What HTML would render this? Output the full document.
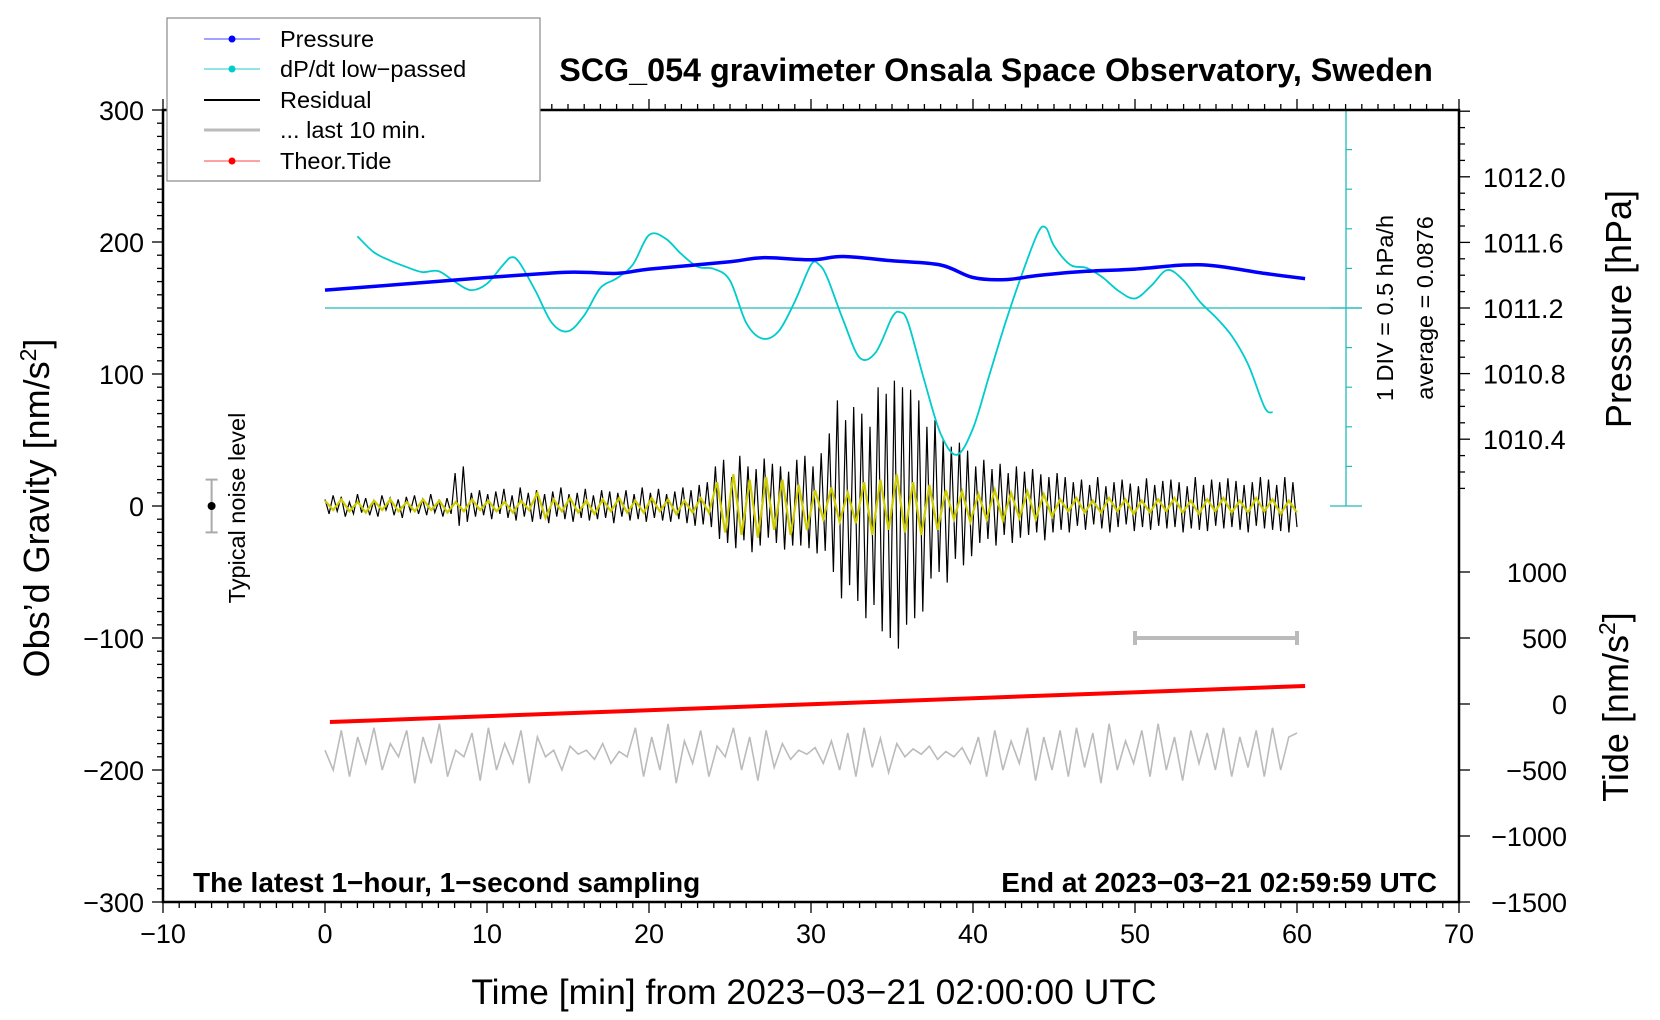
<!DOCTYPE html>
<html><head><meta charset="utf-8"><style>
html,body{margin:0;padding:0;background:#fff;}
svg{display:block;font-family:"Liberation Sans",sans-serif;}
</style></head><body>
<svg id="chart" width="1660" height="1020" viewBox="0 0 1660 1020" xmlns="http://www.w3.org/2000/svg">
<rect x="0" y="0" width="1660" height="1020" fill="#fff"/>
<g id="marks"></g>
<g id="axes"></g>
<text x="996" y="81" font-size="32.3" font-weight="bold" text-anchor="middle">SCG_054 gravimeter Onsala Space Observatory, Sweden</text>
<text x="814" y="1004" font-size="35.5" text-anchor="middle">Time [min] from 2023−03−21 02:00:00 UTC</text>
<text transform="translate(49,508) rotate(-90)" font-size="36" text-anchor="middle">Obs’d Gravity [nm/s<tspan font-size="23" dy="-13">2</tspan><tspan dy="13">]</tspan></text>
<text transform="translate(1631,309) rotate(-90)" font-size="36" text-anchor="middle">Pressure [hPa]</text>
<text transform="translate(1628,707) rotate(-90)" font-size="36" text-anchor="middle">Tide [nm/s<tspan font-size="23" dy="-13">2</tspan><tspan dy="13">]</tspan></text>
<text x="193" y="892" font-size="28" font-weight="bold">The latest 1−hour, 1−second sampling</text>
<text x="1437" y="892" font-size="28" font-weight="bold" text-anchor="end">End at 2023−03−21 02:59:59 UTC</text>
<text transform="translate(245,508) rotate(-90)" font-size="23.5" text-anchor="middle">Typical noise level</text>
<text transform="translate(1393,308) rotate(-90)" font-size="23.5" text-anchor="middle">1 DIV = 0.5 hPa/h</text>
<text transform="translate(1433,308) rotate(-90)" font-size="23.5" text-anchor="middle">average = 0.0876</text>
<g>
<rect x="167" y="18" width="373" height="163" fill="#fff" stroke="#888" stroke-width="1.2"/>
<g><line x1="204" y1="39" x2="260" y2="39" stroke="#44f" stroke-width="1"/><circle cx="232" cy="39" r="3.5" fill="#00f"/><text x="280" y="47" font-size="23.5">Pressure</text></g>
<g><line x1="204" y1="69" x2="260" y2="69" stroke="#2cc" stroke-width="1"/><circle cx="232" cy="69" r="3.5" fill="#0cc"/><text x="280" y="77" font-size="23.5">dP/dt low−passed</text></g>
<g><line x1="204" y1="100" x2="260" y2="100" stroke="#000" stroke-width="2"/><text x="280" y="108" font-size="23.5">Residual</text></g>
<g><line x1="204" y1="130" x2="260" y2="130" stroke="#bbb" stroke-width="3"/><text x="280" y="138" font-size="23.5">... last 10 min.</text></g>
<g><line x1="204" y1="161" x2="260" y2="161" stroke="#f44" stroke-width="1"/><circle cx="232" cy="161" r="3.5" fill="#f00"/><text x="280" y="169" font-size="23.5">Theor.Tide</text></g>
</g>
</svg>
<script>
const xTicks=[-10,0,10,20,30,40,50,60,70];
const yTicks=[-300,-200,-100,0,100,200,300];
const pTicks=[1010.4,1010.8,1011.2,1011.6,1012.0];
const tideTicks=[-1500,-1000,-500,0,500,1000];
const pressT=[0,5,10,15,18,20,25,27,30,32,35,38,40,42,44,47,50,53,55,58,60.5];
const pressV=[1011.309,1011.347,1011.386,1011.418,1011.411,1011.437,1011.482,1011.507,1011.494,1011.514,1011.488,1011.462,1011.386,1011.373,1011.398,1011.424,1011.437,1011.462,1011.456,1011.411,1011.379];
const dpT=[2,3,4,5,6,7,8,9,10,11,11.5,12,13,14,15,16,17,18,19,20,21,22,23,24,25,26,27,28,29,30,30.5,31,32,33,34,35,35.5,36,37,38,39,40,41,42,43,44,44.5,45,46,47,48,49,50,51,52,53,54,55,56,57,58,58.5];
const dpV=[0.994,0.794,0.688,0.608,0.541,0.554,0.421,0.314,0.394,0.634,0.728,0.661,0.301,-0.099,-0.206,-0.006,0.341,0.461,0.634,1.008,0.968,0.768,0.608,0.581,0.434,-0.099,-0.299,-0.206,0.168,0.634,0.634,0.474,-0.072,-0.539,-0.472,-0.032,0.034,-0.099,-0.832,-1.499,-1.766,-1.432,-0.766,-0.099,0.501,1.034,1.101,0.874,0.634,0.594,0.474,0.301,0.208,0.368,0.568,0.434,0.168,-0.032,-0.272,-0.632,-1.166,-1.232];
const dpAverage=0.0876;
const residualV=[5,-6,8,-4,7,-8,3,-6,9,-5,6,-7,4,-8,8,-3,6,-7,5,-9,7,-4,8,-6,5,-7,9,-5,4,-8,6,-6,
25,-15,30,-12,
10,-8,12,-7,9,-10,11,-6,13,-9,8,-11,14,-8,10,-12,
12,-10,9,-13,11,-8,14,-10,9,-12,10,-9,13,-11,8,-10,12,-9,11,-13,10,-8,12,-11,9,-10,14,-12,10,-9,13,-11,9,-12,11,-10,14,-13,12,-15,16,-14,18,-16,
30,-25,35,-28,22,-32,38,-26,30,-35,28,-30,36,-24,32,-28,30,-33,26,-30,
35,-30,38,-32,30,-36,40,-34,
55,-50,80,-70,65,-60,75,-72,
70,-85,60,-75,
90,-95,85,-100,95,-108,90,-90,88,-85,80,-80,
60,-55,65,-50,50,-58,45,-40,48,-45,42,-38,
30,-28,35,-25,28,-30,32,-22,25,-28,30,-24,26,-22,28,-20,24,-26,22,-20,25,-18,22,-20,
18,-15,20,-18,16,-14,22,-17,15,-20,18,-16,20,-14,17,-19,15,-16,21,-18,16,-15,19,-17,20,-16,18,-20,15,-17,22,-18,16,-19,20,-15,18,-17,21,-16,19,-18,16,-20,18,-15,22,-17,20,-18,16,-19,22,-20,18,-16];
const yellowV=[4,-3,5,-4,3,-5,4,-3,5,-4,3,-4,5,-3,4,-5,3,-4,5,-3,4,-4,3,-5,4,-3,
10,-9,
5,-4,6,-5,4,-6,5,-4,6,-5,4,-5,6,-4,5,-6,4,-5,6,-5,
18,-20,24,-22,20,-24,22,-18,20,-22,16,-18,
12,-10,14,-12,10,-13,
18,-22,20,-18,24,-20,18,-22,16,-18,
12,-10,11,-12,9,-10,12,-11,10,-9,11,-10,9,-8,
5,-4,6,-5,4,-5,6,-4,5,-6,4,-5,5,-4,6,-5,4,-6,5,-4,6,-5,4,-5,6,-4,5,-6,4,-5];
const last10V=[-185,-200,-170,-205,-175,-195,-168,-200,-180,-190,-170,-210,-175,-195,-165,-205,-185,-190,-172,-208,-168,-200,-180,-195,-170,-210,-175,-190,-185,-200,-182,-188,-185,-192,-180,-195,-186,-190,-168,-205,-175,-200,-165,-210,-178,-195,-170,-205,-182,-190,-168,-200,-175,-208,-170,-198,-180,-192,-185,-188,-183,-195,-178,-200,-172,-205,-168,-198,-176,-202,-180,-190,-184,-188,-182,-192,-186,-190,-183,-195,-175,-205,-170,-200,-178,-195,-168,-208,-175,-200,-170,-205,-168,-198,-172,-210,-165,-200,-178,-195,-170,-205,-165,-200,-175,-208,-170,-195,-172,-200,-168,-205,-175,-198,-170,-205,-168,-200,-175,-172];
const tideT=[0.3,60.5];
const tideV=[-136,136];
const noiseLevel=[-7,0,20];
const barRange=[50,60,-100];

const X0=163,X1=1459,Y0=110,Y1=902;
const xs=v=>X0+(v+10)/80*(X1-X0);
const ys=v=>Y1-(v+300)/600*(Y1-Y0);
const ps=v=>308-(v-1011.2)/0.4*65.6;
const ts=v=>704-v/500*66;
const ds=v=>308-(v-dpAverage)/0.5*39.6;
const NS='http://www.w3.org/2000/svg';
const marks=document.getElementById('marks'),axes=document.getElementById('axes');
function mk(tag,attrs,parent){const e=document.createElementNS(NS,tag);for(const k in attrs)e.setAttribute(k,attrs[k]);parent.appendChild(e);return e;}
function poly(pts){return pts.map((p,i)=>(i?'L':'M')+p[0].toFixed(1)+','+p[1].toFixed(1)).join('');}
function smooth(pts){let d='M'+pts[0][0]+','+pts[0][1];for(let i=0;i<pts.length-1;i++){const p0=pts[i-1]||pts[i],p1=pts[i],p2=pts[i+1],p3=pts[i+2]||p2;d+='C'+(p1[0]+(p2[0]-p0[0])/6).toFixed(1)+','+(p1[1]+(p2[1]-p0[1])/6).toFixed(1)+' '+(p2[0]-(p3[0]-p1[0])/6).toFixed(1)+','+(p2[1]-(p3[1]-p1[1])/6).toFixed(1)+' '+p2[0].toFixed(1)+','+p2[1].toFixed(1);}return d;}

let e=mk('line',{x1:1346,y1:ds(dpAverage+2.5),x2:1346,y2:ds(dpAverage-2.5),stroke:'#2bb',"stroke-width":1.3},marks);


for(let k=-5;k<=5;k++){const y=ds(dpAverage+k*0.5);const big=(k===5||k===-5||k===0);mk('line',{x1:big?1330:1346,y1:y,x2:big?1362:1352,y2:y,stroke:'#2bb',"stroke-width":1.2},marks);}
e=mk('line',{x1:xs(0),y1:ds(dpAverage),x2:1362,y2:ds(dpAverage),stroke:'#2bb',"stroke-width":1.3},marks);



e=mk('path',{d:poly(last10V.map((v,i)=>[xs(i*60/(last10V.length-1)),ys(v)])),fill:'none',stroke:'#bbb',"stroke-width":1.6},marks);


e=mk('path',{d:poly(tideT.map((t,i)=>[xs(t),ts(tideV[i])])),fill:'none',stroke:'#f00',"stroke-width":4},marks);


e=mk('path',{d:poly(residualV.map((v,i)=>[xs(i*60/(residualV.length-1)),ys(v)])),fill:'none',stroke:'#000',"stroke-width":1.2},marks);


e=mk('path',{d:poly(yellowV.map((v,i)=>[xs(i*60/(yellowV.length-1)),ys(v)])),fill:'none',stroke:'#cc0',"stroke-width":2.2},marks);


e=mk('path',{d:smooth(dpT.map((t,i)=>[xs(t),ds(dpV[i])])),fill:'none',stroke:'#0cc',"stroke-width":1.8},marks);


e=mk('path',{d:smooth(pressT.map((t,i)=>[xs(t),ps(pressV[i])])),fill:'none',stroke:'#00f',"stroke-width":3.5},marks);


e=mk('line',{x1:xs(noiseLevel[0]),y1:ys(noiseLevel[1]-noiseLevel[2]),x2:xs(noiseLevel[0]),y2:ys(noiseLevel[1]+noiseLevel[2]),stroke:'#aaa',"stroke-width":2},marks);


for(const s of [-1,1])mk('line',{x1:xs(noiseLevel[0])-6,y1:ys(noiseLevel[1]+s*noiseLevel[2]),x2:xs(noiseLevel[0])+6,y2:ys(noiseLevel[1]+s*noiseLevel[2]),stroke:'#aaa',"stroke-width":2},marks);
mk('circle',{cx:xs(noiseLevel[0]),cy:ys(noiseLevel[1]),r:4,fill:'#000'},marks);
e=mk('line',{x1:xs(barRange[0]),y1:ys(barRange[2]),x2:xs(barRange[1]),y2:ys(barRange[2]),stroke:'#bbb',"stroke-width":4},marks);


for(const t of [barRange[0],barRange[1]])mk('line',{x1:xs(t),y1:ys(barRange[2])-7,x2:xs(t),y2:ys(barRange[2])+7,stroke:'#bbb',"stroke-width":4},marks);

e=mk('rect',{x:X0,y:Y0,width:X1-X0,height:Y1-Y0,fill:'none',stroke:'#000',"stroke-width":2.5},axes);


for(let m=-10;m<=70;m++){const x=xs(m),big=m%10===0;mk('line',{x1:x,y1:Y1,x2:x,y2:Y1+(big?11:6),stroke:'#000',"stroke-width":1.3},axes);mk('line',{x1:x,y1:Y0,x2:x,y2:Y0-(big?11:6),stroke:'#000',"stroke-width":1.3},axes);}
xTicks.forEach(v=>{const t=mk('text',{x:xs(v),y:Y1+41,"font-size":27,"text-anchor":"middle"},axes);t.textContent=String(v).replace('-','−');

});
for(let v=-300;v<=300;v+=10){const big=v%100===0;mk('line',{x1:X0,y1:ys(v),x2:X0-(big?11:6),y2:ys(v),stroke:'#000',"stroke-width":1.3},axes);}
yTicks.forEach(v=>{const t=mk('text',{x:X0-19,y:ys(v)+10,"font-size":27,"text-anchor":"end"},axes);t.textContent=String(v).replace('-','−');

});
for(let k=0;k<24;k++){const v=1010.1+k*0.1;const y=ps(v);if(y<Y0||y>Y1-300)continue;const big=Math.abs(((v-1010.4)/0.4)-Math.round((v-1010.4)/0.4))<1e-6;mk('line',{x1:X1,y1:y,x2:X1+(big?11:6),y2:y,stroke:'#000',"stroke-width":1.3},axes);}
pTicks.forEach(v=>{const t=mk('text',{x:X1+24,y:ps(v)+10,"font-size":27},axes);t.textContent=v.toFixed(1);

});
for(let v=-1500;v<=1000;v+=500){mk('line',{x1:X1,y1:ts(v),x2:X1+11,y2:ts(v),stroke:'#000',"stroke-width":1.3},axes);}
tideTicks.forEach(v=>{const t=mk('text',{x:1567,y:ts(v)+10,"font-size":27,"text-anchor":"end"},axes);t.textContent=String(v).replace('-','−');

});
</script>
</body></html>
